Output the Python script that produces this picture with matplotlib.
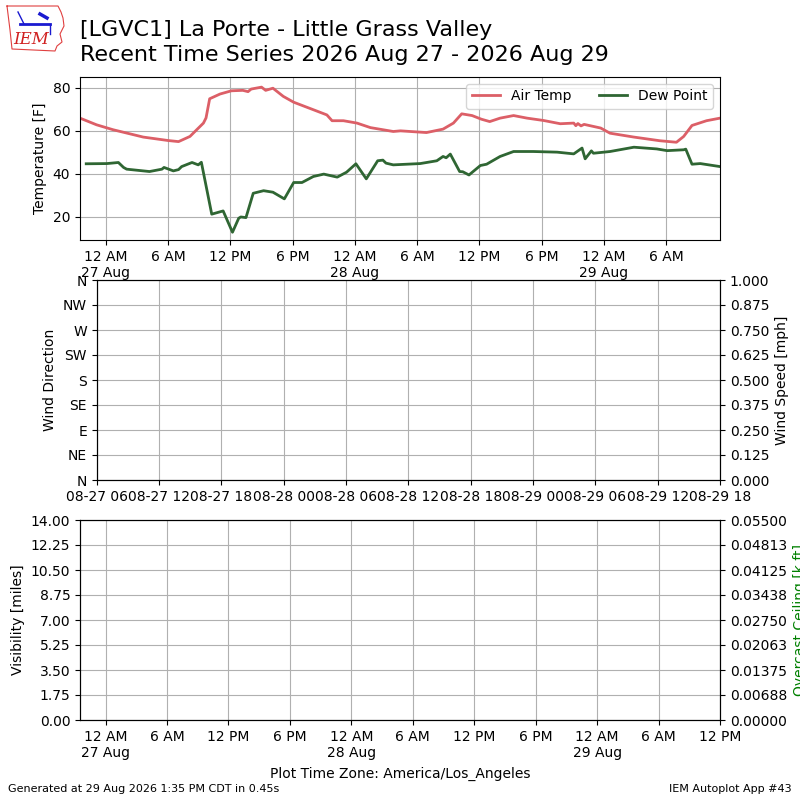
import datetime
import numpy as np
import matplotlib
matplotlib.use("Agg")
import matplotlib.pyplot as plt
import matplotlib.dates as mdates
from matplotlib.ticker import FuncFormatter, FormatStrFormatter

# hours since 2026-08-27 00:00 (local time) and values
tmpf_hours = [-2.5, -0.9, 0.7, 3.6, 6.0, 7.0, 8.1, 9.4, 9.65, 10.0, 11.0, 12.1,
              13.2, 13.7, 14.0, 15.0, 15.4, 16.1, 17.1, 18.1, 20.0, 21.3, 21.8,
              22.9, 24.2, 25.5, 27.7, 28.4, 30.9, 32.5, 33.5, 34.3, 35.3, 36.2,
              37.0, 38.0, 39.3, 40.6, 42.2, 43.8, 45.1, 45.3, 45.5, 45.8, 46.1,
              47.7, 48.6, 50.9, 53.4, 55.0, 55.7, 56.5, 57.9, 59.2]
tmpf = [65.9, 62.8, 60.5, 57.1, 55.5, 55.0, 57.4, 63.6, 66.0, 74.9, 77.1, 78.6,
        78.8, 78.2, 79.4, 80.3, 78.8, 79.8, 76.0, 73.3, 69.8, 67.4, 64.7,
        64.7, 63.6, 61.5, 59.7, 60.0, 59.2, 60.8, 63.6, 67.9, 67.1, 65.4,
        64.3, 65.9, 67.1, 65.9, 64.8, 63.3, 63.6, 62.4, 63.4, 62.3, 63.0,
        61.3, 58.9, 57.1, 55.4, 54.7, 57.4, 62.5, 64.7, 65.9]

dwpf_hours = [-1.9, 0.1, 1.2, 1.7, 2.0, 4.2, 5.4, 5.6, 6.5, 7.0, 7.3, 8.3,
              8.9, 9.2, 10.2, 11.3, 12.2, 12.8, 13.0, 13.5, 14.2, 15.2, 16.1,
              17.2, 18.1, 18.9, 20.0, 21.0, 22.3, 23.2, 24.1, 25.1, 26.2, 26.7,
              27.0, 27.7, 30.3, 31.9, 32.5, 32.8, 33.2, 34.1, 34.4, 35.0, 36.1,
              36.7, 38.0, 39.3, 41.2, 43.5, 45.1, 45.9, 46.2, 46.8, 47.0, 48.6,
              50.9, 53.1, 54.1, 55.7, 55.9, 56.5, 57.3, 59.2]
dwpf = [44.7, 44.8, 45.3, 43.0, 42.2, 41.1, 42.2, 43.0, 41.4, 42.0, 43.4, 45.3,
        44.2, 45.4, 21.3, 22.8, 12.9, 19.4, 20.0, 19.7, 31.0, 32.2, 31.5,
        28.4, 36.0, 36.0, 38.8, 39.9, 38.5, 40.8, 44.7, 37.7, 46.1, 46.4,
        45.0, 44.2, 44.8, 46.1, 48.1, 47.5, 49.2, 41.1, 41.0, 39.5, 43.9,
        44.5, 48.1, 50.4, 50.4, 50.1, 49.3, 52.0, 47.0, 50.7, 49.6, 50.4,
        52.4, 51.6, 50.8, 51.2, 51.5, 44.5, 44.8, 43.4]

dir_labels = ["N", "NE", "E", "SE", "S", "SW", "W", "NW", "N"]

base = datetime.datetime(2026, 8, 27)
tmpf_times = [base + datetime.timedelta(hours=h) for h in tmpf_hours]
dwpf_times = [base + datetime.timedelta(hours=h) for h in dwpf_hours]


def ampm(x, pos=None):
    d = mdates.num2date(x)
    h = d.hour % 12
    if h == 0:
        h = 12
    s = "%d %s" % (h, "AM" if d.hour < 12 else "PM")
    if d.hour == 0:
        s += "\n" + d.strftime("%d %b")
    return s


fig = plt.figure(figsize=(8, 8), dpi=100)

fig.text(0.1, 0.9625, "[LGVC1] La Porte - Little Grass Valley", fontsize=16, va="center")
fig.text(0.1, 0.931, "Recent Time Series 2026 Aug 27 - 2026 Aug 29", fontsize=16, va="center")
fig.text(0.01, 0.01, "Generated at 29 Aug 2026 1:35 PM CDT in 0.45s", fontsize=8)
fig.text(0.99, 0.01, "IEM Autoplot App #43", fontsize=8, ha="right")
fig.text(0.5, 0.032, "Plot Time Zone: America/Los_Angeles", fontsize=10, ha="center", va="center")

# small logo: state outline, wind symbol, IEM letters
logo = fig.add_axes([0, 0.93125, 0.09375, 0.06875])
logo.set_xlim(0, 75)
logo.set_ylim(55, 0)
logo.axis("off")
logo.plot([7, 58, 61, 63, 64, 60, 62, 57, 55, 12, 10, 8, 7],
          [6, 6, 12, 18, 26, 34, 42, 46, 51, 49, 30, 14, 6], color="#e04040", lw=0.8)
logo.plot([20, 50], [24, 24], color="#1a1ad0", lw=2)
logo.plot([18, 24], [12, 24], color="#1a1ad0", lw=1)
logo.plot([40, 47], [14, 18], color="#1a1ad0", lw=2.5)
logo.plot([50, 50], [24, 34], color="#1a1ad0", lw=1)
logo.text(31, 40, "IEM", color="#d02020", fontsize=12, style="italic",
          family="serif", ha="center", va="center")

# temperature panel
ax1 = fig.add_axes([0.1, 0.7, 0.8, 0.204])
ax1.plot(tmpf_times, tmpf, color="#dc5f67", lw=2, label="Air Temp")
ax1.plot(dwpf_times, dwpf, color="#2f6633", lw=2, label="Dew Point")
ax1.set_xlim(tmpf_times[0], tmpf_times[-1])
ax1.set_ylim(9.3, 85.1)
ax1.set_yticks([20, 40, 60, 80])
ax1.set_ylabel("Temperature [F]")
ax1.xaxis.set_major_locator(mdates.HourLocator(byhour=range(0, 24, 6)))
ax1.xaxis.set_major_formatter(FuncFormatter(ampm))
ax1.grid(True)
ax1.legend(loc="upper right", ncol=2)

# wind panel
ax2 = fig.add_axes([0.121, 0.4, 0.779, 0.25])
ax2.set_ylim(0, 360)
ax2.set_yticks(range(0, 361, 45))
ax2.set_yticklabels(dir_labels)
ax2.set_ylabel("Wind Direction")
ax2.set_xlim(datetime.datetime(2026, 8, 27, 6), datetime.datetime(2026, 8, 29, 18))
ax2.xaxis.set_major_locator(mdates.HourLocator(byhour=range(0, 24, 6)))
ax2.xaxis.set_major_formatter(mdates.DateFormatter("%m-%d %H"))
ax2.grid(True)
ax2r = ax2.twinx()
ax2r.set_ylim(0, 1)
ax2r.set_yticks(np.linspace(0, 1, 9))
ax2r.yaxis.set_major_formatter(FormatStrFormatter("%.3f"))
ax2r.set_ylabel("Wind Speed [mph]")

# visibility panel
ax3 = fig.add_axes([0.1, 0.1, 0.8, 0.25])
ax3.set_ylim(0, 14)
ax3.set_yticks(np.linspace(0, 14, 9))
ax3.yaxis.set_major_formatter(FormatStrFormatter("%.2f"))
ax3.set_ylabel("Visibility [miles]")
ax3.set_xlim(tmpf_times[0], datetime.datetime(2026, 8, 29, 12))
ax3.xaxis.set_major_locator(mdates.HourLocator(byhour=range(0, 24, 6)))
ax3.xaxis.set_major_formatter(FuncFormatter(ampm))
ax3.grid(True)
ax3r = ax3.twinx()
ax3r.set_ylim(0, 0.055)
ax3r.set_yticks(np.linspace(0, 0.055, 9))
ax3r.yaxis.set_major_formatter(FormatStrFormatter("%.5f"))
ax3r.set_ylabel("Overcast Ceiling [k ft]", color="g")

fig.savefig("out.png", dpi=100)
